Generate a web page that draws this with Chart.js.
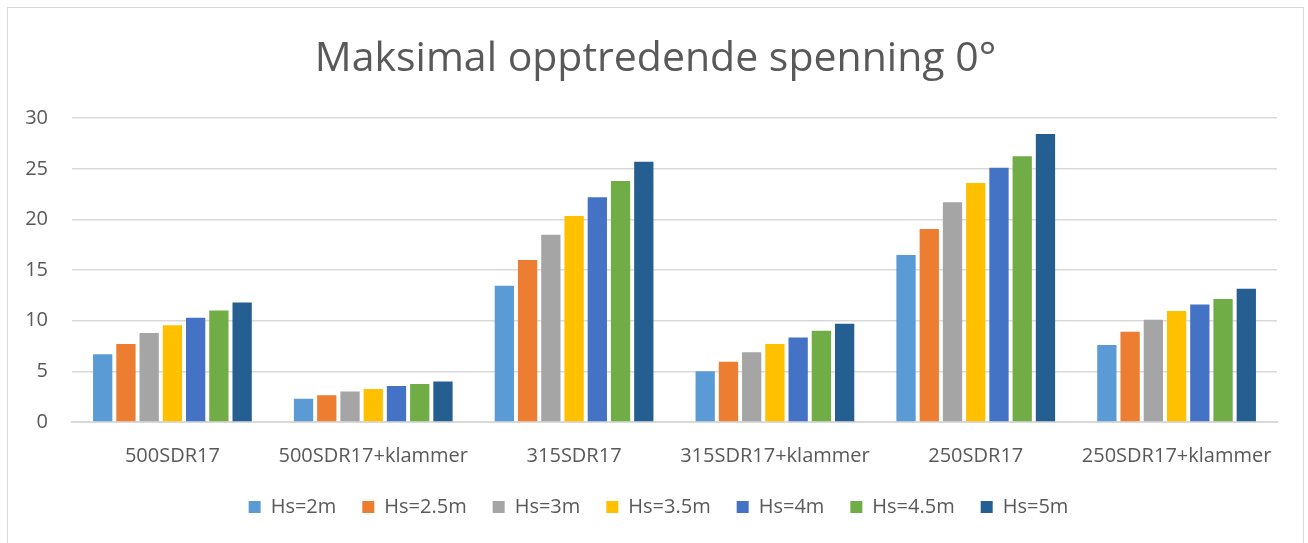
<!DOCTYPE html>
<html>
<head>
<meta charset="utf-8">
<script src="https://cdn.jsdelivr.net/npm/chart.js@4"></script>
<style>
  body { margin: 0; background: #fff; }
  #wrap { position: relative; width: 1308px; height: 543px; overflow: hidden; }
  #frame { position: absolute; left: 7px; top: 7px; width: 1297px; height: 600px; border: 1px solid #d9d9d9; box-sizing: border-box; }
  canvas { position: absolute; left: 0; top: 0; }
</style>
</head>
<body>
<div id="wrap">
  <div id="frame"></div>
  <canvas id="myChart" width="1308" height="543"></canvas>
</div>
<script>
// data
const categories = ['500SDR17', '500SDR17+klammer', '315SDR17', '315SDR17+klammer', '250SDR17', '250SDR17+klammer'];
const seriesNames = ['Hs=2m', 'Hs=2.5m', 'Hs=3m', 'Hs=3.5m', 'Hs=4m', 'Hs=4.5m', 'Hs=5m'];
const hs2   = [6.7, 2.3, 13.45, 5.0, 16.5, 7.6];
const hs25  = [7.7, 2.65, 16.0, 5.95, 19.05, 8.9];
const hs3   = [8.8, 3.0, 18.5, 6.9, 21.7, 10.1];
const hs35  = [9.55, 3.25, 20.35, 7.7, 23.6, 10.95];
const hs4   = [10.3, 3.55, 22.2, 8.35, 25.1, 11.6];
const hs45  = [11.0, 3.75, 23.8, 9.0, 26.25, 12.15];
const hs5   = [11.8, 4.0, 25.7, 9.7, 28.45, 13.15];
const yTicks = [0, 5, 10, 15, 20, 25, 30];

const colors = ['#5B9BD5', '#ED7D31', '#A5A5A5', '#FFC000', '#4472C4', '#70AD47', '#255E91'];
const allValues = [hs2, hs25, hs3, hs35, hs4, hs45, hs5];

const fontFam = "'Open Sans', sans-serif";
const txtColor = '#595959';

const datasets = allValues.map((vals, i) => ({
    label: seriesNames[i],
    data: vals,
    backgroundColor: colors[i],
    borderWidth: 0,
    categoryPercentage: 0.81,
    barPercentage: 0.83
}));

// title and legend sit a bit right of the canvas centre in the original
const shiftBoxes = {
    id: 'shiftBoxes',
    afterLayout(chart) {
        chart.legend.left += 20;
        chart.legend.right += 20;
        chart.titleBlock.left += 17;
        chart.titleBlock.right += 17;
    }
};

const ctx = document.getElementById('myChart').getContext('2d');
const myChart = new Chart(ctx, {
    type: 'bar',
    data: { labels: categories, datasets: datasets },
    plugins: [shiftBoxes],
    options: {
        responsive: false,
        animation: false,
        layout: { padding: { left: 0, right: 31, top: 0, bottom: 16 } },
        plugins: {
            title: {
                display: true,
                text: 'Maksimal opptredende spenning 0°',
                color: txtColor,
                font: { family: fontFam, size: 41, weight: 'normal' },
                padding: { top: 35, bottom: 34 }
            },
            legend: {
                position: 'bottom',
                labels: {
                    color: txtColor,
                    font: { family: fontFam, size: 20 },
                    boxWidth: 12,
                    boxHeight: 12,
                    padding: 26
                }
            },
            tooltip: { enabled: false }
        },
        scales: {
            x: {
                grid: { display: false, drawTicks: false },
                border: { color: '#d9d9d9', width: 2 },
                ticks: { color: txtColor, font: { family: fontFam, size: 20 }, padding: 22, maxRotation: 0 },
                afterFit: function (scale) { scale.height = 49; }
            },
            y: {
                min: 0,
                max: 30,
                afterBuildTicks: function (scale) {
                    scale.ticks = yTicks.map(v => ({ value: v }));
                },
                grid: { color: '#d9d9d9', lineWidth: 1.5, drawTicks: false },
                border: { display: false },
                ticks: { color: txtColor, font: { family: fontFam, size: 20 }, padding: 24 },
                afterFit: function (scale) { scale.width = 72; }
            }
        }
    }
});
</script>
</body>
</html>
